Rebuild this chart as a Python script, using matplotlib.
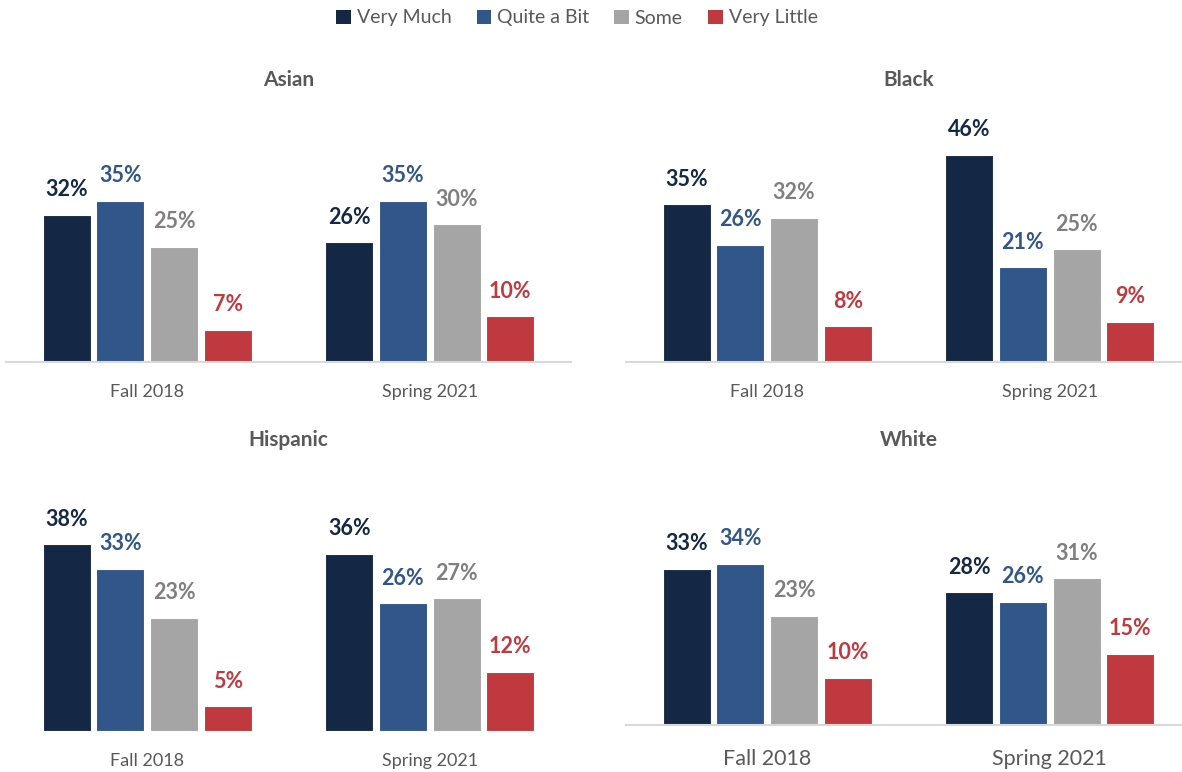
import matplotlib

matplotlib.use("Agg")
import matplotlib.pyplot as plt
import numpy as np
from matplotlib.patches import Patch

plt.rcParams["font.family"] = ["Lato", "DejaVu Sans"]

# data
terms = ["Fall 2018", "Spring 2021"]
responses = ["Very Much", "Quite a Bit", "Some", "Very Little"]

asian_very_much = [32, 26]
asian_quite_a_bit = [35, 35]
asian_some = [25, 30]
asian_very_little = [7, 10]

black_very_much = [35, 46]
black_quite_a_bit = [26, 21]
black_some = [32, 25]
black_very_little = [8, 9]

hispanic_very_much = [38, 36]
hispanic_quite_a_bit = [33, 26]
hispanic_some = [23, 27]
hispanic_very_little = [5, 12]

white_very_much = [33, 28]
white_quite_a_bit = [34, 26]
white_some = [23, 31]
white_very_little = [10, 15]

BAR_COLORS = ["#142846", "#30568A", "#A5A5A5", "#C0393F"]
LABEL_COLORS = ["#142846", "#30568A", "#7F7F7F", "#C0393F"]
GREY_TEXT = "#595959"

W, H = 1182, 772
fig = plt.figure(figsize=(W / 100, H / 100), dpi=100)


def px_axes(left, right, baseline, top):
    return fig.add_axes([left / W, (H - baseline) / H, (right - left) / W, (baseline - top) / H])


# (title, series, left px, right px, baseline px, title px, px per %, baseline?, tick size, tick pad)
panels = [
    ("Asian", [asian_very_much, asian_quite_a_bit, asian_some, asian_very_little],
     6, 571, 362, 80, 4.6, True, 13, 15.5),
    ("Black", [black_very_much, black_quite_a_bit, black_some, black_very_little],
     626, 1191, 362, 80, 4.5, True, 13, 15.5),
    ("Hispanic", [hispanic_very_much, hispanic_quite_a_bit, hispanic_some, hispanic_very_little],
     6, 571, 731, 440, 4.92, False, 13, 15.5),
    ("White", [white_very_much, white_quite_a_bit, white_some, white_very_little],
     626, 1191, 725, 440, 4.74, True, 15.5, 17),
]

x = np.arange(len(terms))
step, width = 0.19, 0.17

for title, series, left, right, base, ttop, scale, show_base, tsize, tpad in panels:
    ax = px_axes(left, right, base, ttop)
    for i, vals in enumerate(series):
        xs = x + (i - 1.5) * step
        bars = ax.bar(xs, vals, width=width, color=BAR_COLORS[i],
                      edgecolor="white", linewidth=0.8, zorder=2)
        for b, v in zip(bars, vals):
            ax.annotate(f"{v}%", (b.get_x() + b.get_width() / 2, v),
                        xytext=(0, 18), textcoords="offset points",
                        ha="center", va="center", fontsize=15.5,
                        fontweight="bold", color=LABEL_COLORS[i])
    ax.set_xlim(-0.5, 1.5)
    ax.set_ylim(0, (base - ttop) / scale)
    ax.set_xticks(x, terms)
    ax.tick_params(axis="x", length=0, pad=tpad, labelsize=tsize, labelcolor=GREY_TEXT)
    ax.set_yticks([])
    for s in ("top", "right", "left"):
        ax.spines[s].set_visible(False)
    ax.spines["bottom"].set_color("#D9D9D9")
    ax.spines["bottom"].set_linewidth(1.5)
    ax.spines["bottom"].set_visible(show_base)
    ax.text(0.5, 1.0, title, transform=ax.transAxes, ha="center", va="center",
            fontsize=15, fontweight="bold", color=GREY_TEXT)

handles = [Patch(facecolor=c, edgecolor="none") for c in BAR_COLORS]
fig.legend(handles, responses, loc="center", bbox_to_anchor=(0.488, 1 - 18 / H),
           ncol=4, frameon=False, fontsize=14, labelcolor=GREY_TEXT,
           handlelength=0.75, handleheight=0.75, handletextpad=0.3,
           columnspacing=1.3)

fig.savefig("out.png", dpi=100)
